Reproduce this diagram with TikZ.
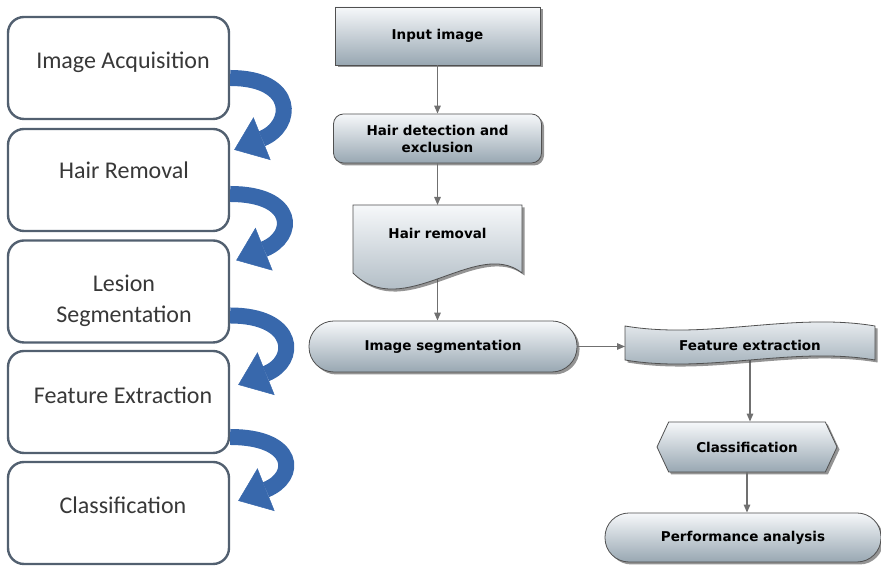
\documentclass[tikz,border=0pt]{standalone}
\usepackage{fontspec}
\newfontfamily\stagefont{Carlito}
\newfontfamily\flowfont{DejaVu Sans}
\usetikzlibrary{arrows.meta,shapes.symbols,shadows}
\definecolor{stageline}{RGB}{82,96,112}
\definecolor{stagetext}{RGB}{56,56,56}
\definecolor{turnblue}{RGB}{56,104,172}
\definecolor{flowtop}{RGB}{246,248,250}
\definecolor{flowbot}{RGB}{152,167,178}
\definecolor{flowline}{RGB}{80,80,80}
\definecolor{flowgray}{RGB}{112,112,112}
\tikzset{
  stage/.style={draw=stageline, line width=2.4pt, fill=white, rounded corners=16pt,
    minimum width=221pt, minimum height=102pt},
  stagelabel/.style={text=stagetext, font=\stagefont\fontsize{24}{31}\selectfont, align=center},
  turn/.style={draw=turnblue, line width=16pt,
    -{Triangle[length=30pt,width=46pt,line width=0.5pt]}},
  flowbox/.style={draw=flowline, line width=0.8pt, top color=flowtop, bottom color=flowbot,
    drop shadow={shadow xshift=2.5pt,shadow yshift=-2.5pt,fill=black!70,opacity=.6},
    font=\flowfont\bfseries\fontsize{13.5}{17}\selectfont, align=center, inner sep=0pt},
  flowlabel/.style={font=\flowfont\bfseries\fontsize{13.5}{17}\selectfont, align=center},
  frame/.style={inner sep=0pt, outer sep=0pt},
  flowarrow/.style={draw=flowgray, line width=1.3pt, -{Triangle[length=8pt,width=6.5pt]}}
}
\begin{document}
\begin{tikzpicture}[x=1pt,y=1pt]
\useasboundingbox (0,0) rectangle (881,569);
\node[stage] (l1) at (118.5,501) {};
\node[stage] (l2) at (118.5,389) {};
\node[stage] (l3) at (118.5,277.5) {};
\node[stage] (l4) at (118.5,167) {};
\node[stage] (l5) at (118.5,56) {};
\node[stagelabel] (t1) at (123,507) {Image Acquisition};
\node[stagelabel] (t2) at (124,399) {Hair Removal};
\node[stagelabel] (t3) at (124,268.5) {Lesion\\Segmentation};
\node[stagelabel] (t4) at (123,174) {Feature Extraction};
\node[stagelabel] (t5) at (123,64) {Classification};
\draw[turn] ([yshift=-10pt]l1.east) .. controls +(66,0) and +(60,24) .. ([xshift=4pt,yshift=-22pt]l2.north east);
\draw[turn] ([yshift=-14pt]l2.east) .. controls +(66,0) and +(60,24) .. ([xshift=6pt,yshift=-21pt]l3.north east);
\draw[turn] ([yshift=-24pt]l3.east) .. controls +(66,0) and +(60,24) .. ([xshift=8pt,yshift=-35pt]l4.north east);
\draw[turn] ([yshift=-35pt]l4.east) .. controls +(66,0) and +(60,24) .. ([xshift=8pt,yshift=-40pt]l5.north east);

\node[flowbox, minimum width=205pt, minimum height=58pt] (input) at (437.5,533) {Input image};
\node[flowbox, rounded corners=10pt, minimum width=208pt, minimum height=49pt] (hairdet) at (437.5,430.5) {Hair detection and\\exclusion};
\node[flowbox, rounded corners=25pt, minimum width=268pt, minimum height=51pt] (imgseg) at (443,222.5) {Image segmentation};
\node[flowbox, signal, signal to=west and east, signal pointer angle=130,
  minimum width=180pt, minimum height=50pt] (classif) at (747,122) {Classification};
\node[flowbox, rounded corners=24pt, minimum width=276pt, minimum height=49pt] (perf) at (743,31.5) {Performance analysis};
\node[frame, minimum width=169pt, minimum height=68pt] (hairrem) at (437.5,330) {};
\node[frame, minimum width=250pt, minimum height=34pt] (featext) at (750,226) {};

\draw[flowarrow] (input) -- (hairdet);
\draw[flowarrow] (hairdet) -- (hairrem);
\draw[flowarrow] (hairrem.south) -- (hairrem.south |- imgseg.north);
\draw[flowarrow] (imgseg.east) -- (imgseg.east -| featext.west);
\draw[flowarrow] (featext.south) -- (featext.south |- classif.north);
\draw[flowarrow] (classif.south) -- (classif.south |- perf.north);

\path[flowbox] (hairrem.north west) -- (hairrem.north east) -- (hairrem.south east)
  .. controls +(-45,36) and +(50,-50) .. (hairrem.south west) -- cycle;
\path[flowbox] (featext.north west) .. controls +(83,-14) and +(-83,14) .. (featext.north east)
  -- (featext.south east) .. controls +(-83,14) and +(83,-14) .. (featext.south west) -- cycle;
\node[flowlabel] (hairremtext) at ([yshift=6pt]hairrem.center) {Hair removal};
\node[flowlabel] (featexttext) at ([yshift=-2pt]featext.center) {Feature extraction};
\end{tikzpicture}
\end{document}
